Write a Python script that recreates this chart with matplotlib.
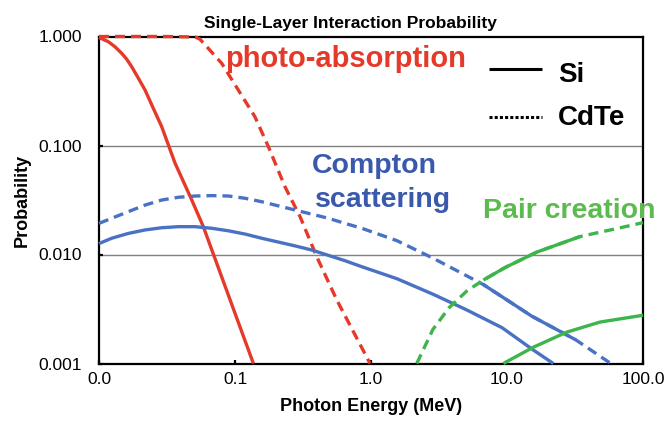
import matplotlib
matplotlib.use('Agg')
import matplotlib.pyplot as plt

# ---- data ----
si_photo_E = [0.01, 0.0117, 0.0131, 0.0147, 0.0160, 0.0174, 0.0195, 0.0218, 0.0251, 0.0289,
              0.0362, 0.0481, 0.0585, 0.1365]
si_photo_P = [0.98, 0.896, 0.806, 0.70, 0.618, 0.528, 0.413, 0.323, 0.219, 0.149,
              0.0691, 0.0316, 0.0180, 0.001]

cdte_photo_E = [0.01, 0.03, 0.0508, 0.055, 0.0602, 0.0798, 0.1057, 0.140, 0.176, 0.233,
                0.301, 0.399, 0.560, 0.984]
cdte_photo_P = [1.0, 1.0, 0.99, 0.95, 0.84, 0.568, 0.323, 0.184, 0.0975, 0.0419,
                0.0222, 0.00955, 0.00383, 0.001]

si_compton_E = [0.01, 0.0124, 0.0164, 0.0218, 0.0289, 0.0383, 0.0508, 0.0674, 0.0894, 0.1186,
                0.157, 0.276, 0.366, 0.644, 0.855, 1.55, 2.87, 5.06, 9.2, 15.6, 21.9]
si_compton_P = [0.0126, 0.0141, 0.0156, 0.0168, 0.0176, 0.0180, 0.0180, 0.0174, 0.0165, 0.0154,
                0.0141, 0.0120, 0.0110, 0.00877, 0.00773, 0.00600, 0.00431, 0.0031, 0.00213,
                0.00133, 0.001]

cdte_compton_E = [0.01, 0.0124, 0.0164, 0.0218, 0.0289, 0.0383, 0.0508, 0.0674, 0.0894, 0.1186,
                  0.157, 0.276, 0.485, 0.644, 0.855, 1.55, 2.87, 6.7, 15.2, 32.0, 58.0]
cdte_compton_P = [0.0193, 0.0215, 0.0247, 0.0284, 0.0316, 0.0335, 0.0344, 0.0347, 0.0344, 0.0328,
                  0.0305, 0.0256, 0.0215, 0.0193, 0.0174, 0.0134, 0.00923, 0.00530, 0.00272,
                  0.00165, 0.001]

si_pair_E = [9.4, 15.6, 27.5, 48.3, 100.0]
si_pair_P = [0.001, 0.00141, 0.00194, 0.00240, 0.00277]

cdte_pair_E = [2.17, 2.85, 3.75, 5.06, 6.7, 9.7, 16.5, 34.4, 85.0, 100.0]
cdte_pair_P = [0.001, 0.00205, 0.00325, 0.00462, 0.00583, 0.00760, 0.0105, 0.0146, 0.0187, 0.0196]

x_ticks = [0.01, 0.1, 1.0, 10.0, 100.0]
x_tick_labels = ['0.0', '0.1', '1.0', '10.0', '100.0']
y_ticks = [0.001, 0.01, 0.1, 1.0]
y_tick_labels = ['0.001', '0.010', '0.100', '1.000']

# ---- styles ----
RED = '#E5392A'
BLUE = '#4A72C4'
GREEN = '#3DB54A'
BLUE_TXT = '#3A59AD'
GREEN_TXT = '#5CBB4E'
LW = 2.4
DASH = (0, (3.0, 1.8))
FONT = 'Liberation Sans'

plt.rcParams['font.family'] = [FONT, 'DejaVu Sans']

fig = plt.figure(figsize=(6.67, 4.24), dpi=100)
ax = fig.add_axes([99/667, 1 - 363.5/424, 544/667, 327/424])
ax.set_xscale('log')
ax.set_yscale('log')
ax.set_xlim(0.01, 100)
ax.set_ylim(0.001, 1.0)

# grid
for g in [0.1, 0.01]:
    ax.axhline(g, color='#808080', lw=1.0, zorder=1)

kw = dict(lw=LW, zorder=3, clip_on=False, solid_capstyle='butt', solid_joinstyle='round')
ax.plot(si_photo_E, si_photo_P, color=RED, **kw)
ax.plot(cdte_photo_E, cdte_photo_P, color=RED, linestyle=DASH, **kw)
ax.plot(si_compton_E, si_compton_P, color=BLUE, **kw)
ax.plot(cdte_compton_E, cdte_compton_P, color=BLUE, linestyle=DASH, **kw)
ax.plot(cdte_compton_E[17:20], cdte_compton_P[17:20], color=BLUE, **kw)
ax.plot(si_pair_E, si_pair_P, color=GREEN, **kw)
ax.plot(cdte_pair_E, cdte_pair_P, color=GREEN, linestyle=DASH, **kw)
ax.plot(cdte_pair_E[4:8], cdte_pair_P[4:8], color=GREEN, **kw)

# ticks
ax.set_xticks(x_ticks)
ax.set_xticklabels(x_tick_labels)
ax.set_yticks(y_ticks)
ax.set_yticklabels(y_tick_labels)
ax.minorticks_off()
ax.tick_params(axis='both', direction='in', length=3, width=1.6, labelsize=12.5, colors='black')
ax.tick_params(axis='y', pad=12)
ax.tick_params(axis='x', pad=6)
for s in ax.spines.values():
    s.set_linewidth(1.6)
    s.set_color('black')

ax.set_xlabel('Photon Energy (MeV)', fontsize=13, fontweight='bold', labelpad=8)
ax.set_ylabel('Probability', fontsize=13, fontweight='bold', labelpad=6)
fig.text(350/667, 1 - 28/424, 'Single-Layer Interaction Probability', ha='center', va='baseline',
         fontsize=12.5, fontweight='bold')

# annotations
ax.text(0.2316, 0.908, 'photo-absorption', transform=ax.transAxes, color=RED, fontsize=21,
        fontweight='bold', ha='left', va='baseline')
ax.text(0.392, 0.582, 'Compton', transform=ax.transAxes, color=BLUE_TXT, fontsize=20.5,
        fontweight='bold', ha='left', va='baseline')
ax.text(0.397, 0.4795, 'scattering', transform=ax.transAxes, color=BLUE_TXT, fontsize=20.5,
        fontweight='bold', ha='left', va='baseline')
ax.text(0.7065, 0.445, 'Pair creation', transform=ax.transAxes, color=GREEN_TXT, fontsize=20.5,
        fontweight='bold', ha='left', va='baseline', clip_on=False)

# legend (hand-drawn in the original)
ax.plot([0.7175, 0.814], [0.8997, 0.8997], transform=ax.transAxes, color='black', lw=2.2,
        solid_capstyle='butt')
ax.plot([0.7175, 0.814], [0.7547, 0.7547], transform=ax.transAxes, color='black', lw=2.2,
        linestyle=(0, (1.0, 0.7)))
ax.text(0.8443, 0.862, 'Si', transform=ax.transAxes, fontsize=20, fontweight='bold',
        ha='left', va='baseline')
ax.text(0.8443, 0.7294, 'CdTe', transform=ax.transAxes, fontsize=20, fontweight='bold',
        ha='left', va='baseline')

fig.savefig('out.png', dpi=100)
